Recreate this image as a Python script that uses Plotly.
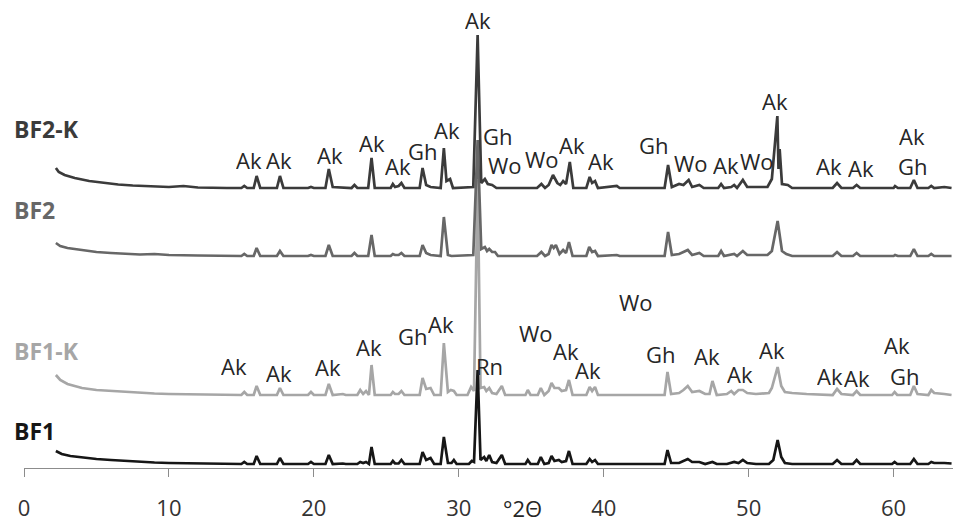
import plotly.graph_objects as go

# ---------------- data ----------------
# intensities are relative to each pattern's own baseline (arbitrary units)
bf1_x = [2.2, 2.6, 3.2, 4, 5, 6, 7, 8, 9, 10, 12, 14, 15, 15.2, 15.4, 15.85, 16.05, 16.3, 17.45, 17.66, 17.9,
         19.6, 19.8, 20.0, 20.8, 21.03, 21.3, 22.0, 22.2, 23.0, 23.2, 23.4, 23.6, 23.8, 23.98, 24.2, 25.3, 25.45,
         25.6, 25.85, 26.04, 26.25, 27.3, 27.5, 27.75, 28.05, 28.3, 28.75, 28.97, 29.25, 29.5, 29.66, 29.85, 30.7,
         30.9, 31.05, 31.3, 31.5, 31.75, 31.9, 32.1, 32.3, 32.6, 32.97, 33.2, 34.6, 34.76, 34.95, 35.45, 35.66,
         35.9, 36.2, 36.4, 36.6, 36.9, 37.1, 37.4, 37.6, 37.85, 38.8, 39.03, 39.2, 39.4, 39.6, 41, 42, 43, 44.2,
         44.4, 44.65, 45.2, 45.5, 45.8, 46.1, 46.6, 47, 47.5, 47.8, 48.5, 49.0, 49.3, 49.6, 49.9, 50.5, 51.4,
         51.7, 52.0, 52.25, 52.5, 53, 55.8, 56.1, 56.4, 57.2, 57.45, 57.7, 59.9, 60.07, 60.25, 61.15, 61.4,
         61.65, 62.4, 62.6, 62.8, 63.5, 64]
bf1_y = [14, 11, 9, 7.5, 6, 5, 4, 3, 2.5, 2, 1.5, 1, 1, 3, 1, 1, 9, 1, 1, 7, 1,
         1, 3, 1, 1, 10, 1, 1.5, 1, 1, 3, 2, 3, 1, 18, 1, 1, 4,
         1.5, 1.5, 5, 1, 1, 13, 5, 7, 1, 1, 28, 2, 2, 5, 1, 1,
         4, 3, 95, 5, 8, 4, 10, 3, 2, 10, 1, 1, 5, 1, 1, 8,
         1, 2, 9, 4, 5, 3, 4, 14, 1, 1, 6, 3, 5, 1, 1, 1.5, 1, 1,
         15, 2, 2, 4, 6, 3, 3, 1, 3, 1, 1, 3, 2, 5, 2, 1, 1,
         5, 25, 8, 2, 1, 1, 5, 1, 1, 5, 1, 1, 3, 1, 1, 6,
         1, 1, 3, 2, 2, 1.5]

bf1k_x = [2.2, 2.5, 3, 3.5, 4, 5, 6, 7, 8, 9, 10, 12, 14, 15, 15.2, 15.4, 15.85, 16.05, 16.3, 17.45, 17.66, 17.9,
          19.6, 19.8, 20.0, 20.8, 21.03, 21.3, 22.0, 22.2, 23.0, 23.2, 23.4, 23.6, 23.8, 23.98, 24.2, 25.3, 25.45,
          25.6, 25.85, 26.04, 26.25, 27.3, 27.5, 27.75, 28.05, 28.3, 28.75, 28.97, 29.25, 29.45, 29.66, 29.85,
          30.6, 30.85, 31.05, 31.3, 31.5, 31.75, 31.9, 32.1, 32.3, 32.6, 32.97, 33.2, 34.6, 34.76, 34.95, 35.45,
          35.66, 35.9, 36.2, 36.4, 36.6, 36.9, 37.1, 37.4, 37.6, 37.85, 38.8, 39.03, 39.2, 39.4, 39.6, 40.5, 41,
          42, 43, 44.2, 44.4, 44.65, 45.2, 45.5, 45.8, 46.1, 46.6, 47.0, 47.3, 47.5, 47.8, 48.5, 48.8, 49.0, 49.3,
          49.6, 49.9, 50.5, 51.4, 51.6, 52.0, 52.25, 52.5, 53, 54, 55.8, 56.1, 56.4, 57.2, 57.45, 57.7, 59.9,
          60.07, 60.25, 61.15, 61.4, 61.65, 62.4, 62.6, 62.8, 63.5, 64]
bf1k_y = [21, 16, 12, 10, 8, 6, 5, 4, 3, 2.5, 2, 1.5, 1, 1, 4, 1, 1, 10, 1, 1, 8, 1,
          1, 4, 1, 1, 12, 1, 2, 1, 1, 6, 2, 5, 1, 31, 1, 1, 4,
          2, 2, 5, 1, 1, 18, 7, 8, 1, 1, 53, 4, 6, 5, 1,
          1, 9, 5, 216, 8, 9, 5, 8, 3, 2, 10, 1, 1, 6, 1, 1,
          8, 1, 5, 13, 8, 8, 5, 6, 16, 1, 1, 9, 5, 9, 1, 1, 0.5,
          1, 1, 1, 24, 2, 3, 6, 10, 4, 5, 2, 2, 15, 1, 2, 5, 2, 6,
          6, 3, 2, 3, 8, 29, 10, 4, 3, 2, 1, 7, 2, 1, 5, 1, 1,
          4, 1, 1, 10, 2, 1, 6, 3, 2, 1]

bf2_x = [2.2, 2.5, 3, 4, 5, 6, 7, 8, 9, 10, 12, 14, 15, 15.2, 15.4, 15.85, 16.05, 16.3, 17.45, 17.66, 17.9,
         19.6, 19.8, 20.0, 20.8, 21.03, 21.3, 22.6, 22.8, 23.0, 23.75, 23.98, 24.2, 25.3, 25.45, 25.6, 25.85,
         26.04, 26.25, 27.3, 27.5, 27.75, 28.05, 28.75, 28.97, 29.25, 29.5, 31.0, 31.3, 31.55, 31.8, 31.95, 32.1,
         32.3, 32.5, 32.7, 35.4, 35.7, 35.95, 36.2, 36.4, 36.55, 36.7, 36.95, 37.2, 37.4, 37.6, 37.85, 38.8,
         39.0, 39.2, 39.4, 39.6, 40.9, 41.1, 44.2, 44.44, 44.7, 45.2, 45.5, 45.8, 46.1, 46.6, 46.9, 47.9, 48.1,
         48.3, 49.0, 49.2, 49.6, 49.9, 51.3, 51.6, 52.0, 52.3, 52.6, 53, 55.8, 56.1, 56.4, 57.2, 57.45, 57.7,
         60, 60.1, 60.3, 61.15, 61.4, 61.65, 62.4, 62.6, 62.8, 63.5, 64]
bf2_y = [14, 11, 9, 7, 5, 4, 3, 2.5, 3, 2, 1.5, 1, 1, 3, 1, 1, 9, 1, 1, 6, 1,
         1, 2, 1, 1, 12, 1, 1, 4, 1, 1, 22, 1, 1, 3, 2, 2,
         4, 1, 1, 12, 4, 2, 1, 40, 2, 1, 2, 117, 8, 10, 6, 8,
         5, 5, 1, 1, 5, 1, 3, 12, 9, 12, 3, 7, 4, 15, 1, 1,
         10, 5, 6, 1, 2, 1, 1, 25, 2, 3, 5, 7, 2, 4, 1, 1, 6,
         1, 3, 1, 6, 2, 2, 6, 36, 6, 3, 1, 1, 5, 1, 1, 4, 1,
         1, 2, 1, 1, 8, 1, 1, 3, 1, 1, 1]

bf2k_x = [2.2, 2.4, 2.8, 3.5, 4.5, 5.5, 6.5, 7.5, 9, 10, 11, 12, 14, 15.0, 15.2, 15.4, 15.85, 16.05, 16.3, 17.45,
          17.66, 17.9, 19.6, 19.8, 20.0, 20.8, 21.03, 21.3, 22.6, 22.8, 23.0, 23.75, 23.98, 24.2, 25.3, 25.45,
          25.6, 25.85, 26.04, 26.25, 27.3, 27.5, 27.75, 28.05, 28.75, 28.97, 29.15, 29.4, 29.6, 31.0, 31.3, 31.55,
          31.8, 32.0, 32.3, 32.6, 35.4, 35.7, 35.95, 36.2, 36.5, 36.8, 37.0, 37.2, 37.4, 37.66, 37.9, 38.8, 39.03,
          39.2, 39.4, 39.6, 40.9, 41.1, 44.2, 44.44, 44.7, 45.2, 45.5, 45.86, 46.1, 46.6, 46.9, 47.9, 48.1, 48.3,
          48.8, 49.0, 49.2, 49.6, 49.9, 51.3, 51.6, 51.98, 52.06, 52.14, 52.3, 52.7, 53, 55.8, 56.1, 56.4, 57.2,
          57.45, 57.7, 60, 60.1, 60.3, 61.15, 61.4, 61.65, 62.4, 62.6, 62.8, 63.5, 64]
bf2k_y = [21, 17, 14, 11, 8, 6, 4.5, 3.5, 3, 2, 3, 1.5, 1, 1, 3, 1, 1, 13, 1, 1,
          13, 1, 1, 2, 1, 1, 20, 2, 1, 4, 1, 1, 31, 1, 1, 5,
          2, 3, 6, 1, 1, 21, 4, 2, 1, 41, 8, 10, 1, 2, 154, 6,
          10, 5, 4, 1, 1, 5, 1, 4, 14, 6, 4, 8, 5, 27, 1, 1, 12,
          6, 8, 1, 3, 1, 1, 24, 2, 5, 4, 9, 2, 4, 1, 1, 5, 1,
          2, 4, 1, 9, 2, 2, 10, 73, 20, 40, 5, 4, 1, 1, 6, 1, 1,
          4, 1, 1, 3, 1, 1, 9, 1, 1, 3, 1, 2, 1]

sample_names = ["BF1-K", "BF2", "BF2-K", "BF1"]
sample_x = [bf1k_x, bf2_x, bf2k_x, bf1_x]
sample_y = [bf1k_y, bf2_y, bf2k_y, bf1_y]
sample_offset = [72, 211, 279, 3]
sample_color = ["#a6a6a6", "#676767", "#3b3b3b", "#161616"]
sample_label_y = [117, 258, 339, 37]

# phase labels: (text, 2theta, height)
phase_text = ["Ak", "Ak", "Ak", "Ak", "Ak", "Gh", "Ak", "Ak", "Gh", "Wo", "Wo", "Ak", "Ak", "Gh", "Wo",
              "Ak", "Wo", "Ak", "Ak", "Ak", "Ak", "Gh",
              "Ak", "Ak", "Ak", "Ak", "Gh", "Ak", "Rn", "Wo", "Ak", "Ak", "Wo", "Gh", "Ak", "Ak", "Ak",
              "Ak", "Ak", "Ak", "Gh"]
phase_x = [15.52, 17.59, 21.10, 24.0, 25.79, 27.52, 29.17, 31.31, 32.69, 33.17, 35.72, 37.79, 39.79, 43.45, 46.0,
           48.41, 50.55, 51.79, 55.52, 57.72, 61.24, 61.31,
           14.48, 17.59, 20.97, 23.79, 26.83, 28.76, 32.14, 35.31, 37.38, 38.9, 42.21, 43.93, 47.10, 49.38, 51.59,
           55.59, 57.45, 60.21, 60.76]
phase_y = [308, 308, 313, 325, 302, 317, 338, 448, 332, 303, 309, 323, 307, 323, 305,
           303, 307, 367, 302, 300, 332, 302,
           102, 95, 101, 121, 132, 144, 102, 135, 117, 98, 166, 114, 112, 94, 118,
           92, 90, 123, 92]

x_ticks = [0, 10, 20, 30, 40, 50, 60]

# ---------------- figure ----------------
FONT = "Open Sans"
X_MAX = 64.1
fig = go.Figure()
for name, xs, ys, off, col in zip(sample_names, sample_x, sample_y, sample_offset, sample_color):
    fig.add_trace(go.Scatter(x=xs, y=[v + off for v in ys], mode="lines", name=name,
                             line=dict(color=col, width=2.7), hoverinfo="skip"))

annotations = []
for name, col, ly in zip(sample_names, sample_color, sample_label_y):
    annotations.append(dict(x=-0.85 / X_MAX, y=ly, xref="paper", yref="y", text=f"<b>{name}</b>",
                            showarrow=False, xanchor="left", yanchor="middle",
                            font=dict(family=FONT, size=23, color=col)))
for t, px, py in zip(phase_text, phase_x, phase_y):
    annotations.append(dict(x=px, y=py, xref="x", yref="y", text=t, showarrow=False,
                            xanchor="center", yanchor="middle", height=26,
                            font=dict(family=FONT, size=22, color="#262626")))
annotations.append(dict(x=34.4, y=-0.086, xref="x", yref="paper", text="°2Θ", showarrow=False,
                        xanchor="center", yanchor="middle",
                        font=dict(family=FONT, size=22, color="#262626")))

fig.update_layout(
    width=958, height=523,
    margin=dict(l=24, r=5, t=0, b=55),
    paper_bgcolor="white", plot_bgcolor="white",
    showlegend=False,
    annotations=annotations,
    xaxis=dict(range=[0, X_MAX], tickvals=x_ticks, ticktext=[str(v) for v in x_ticks],
               showgrid=False, zeroline=False, showline=True, linecolor="#8c8c8c", linewidth=1.2,
               ticks="outside", ticklen=8, tickcolor="#8c8c8c", tickwidth=1.2,
               ticklabelstandoff=12,
               tickfont=dict(family=FONT, size=22, color="#333333")),
    yaxis=dict(range=[0, 468], visible=False, showgrid=False, zeroline=False),
)

fig.write_html("out.html")
